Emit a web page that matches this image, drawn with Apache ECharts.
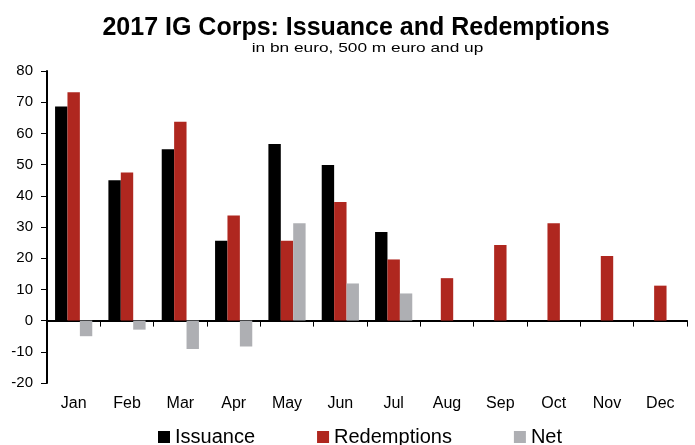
<!DOCTYPE html>
<html>
<head>
<meta charset="utf-8">
<script src="https://cdn.jsdelivr.net/npm/echarts@6/dist/echarts.min.js"></script>
<style>
  html, body { margin: 0; padding: 0; background: #fff; }
  #chart { width: 695px; height: 445px; }
</style>
</head>
<body>
<div id="chart"></div>
<script>
const categories = ['Jan', 'Feb', 'Mar', 'Apr', 'May', 'Jun', 'Jul', 'Aug', 'Sep', 'Oct', 'Nov', 'Dec'];
const issuance = [68.6, 45.0, 54.9, 25.6, 56.6, 49.9, 28.4, null, null, null, null, null];
const redemptions = [73.2, 47.5, 63.7, 33.7, 25.6, 38.0, 19.6, 13.6, 24.2, 31.2, 20.7, 11.2];
const net = [-5.0, -2.9, -9.1, -8.3, 31.2, 11.9, 8.7, null, null, null, null, null];
const yTicks = { min: -20, max: 80, interval: 10 };
const titleText = '2017 IG Corps: Issuance and Redemptions';
const subtitleText = 'in bn euro, 500 m euro and up';

const FONT = '"Liberation Sans", Arial, sans-serif';
const chart = echarts.init(document.getElementById('chart'), null, { renderer: 'canvas' });

const barW = 12.4;
function barSeries(name, data, color) {
  return {
    name: name,
    type: 'bar',
    data: data,
    xAxisIndex: 0,
    barWidth: barW,
    barGap: '0%',
    itemStyle: { color: color },
    emphasis: { disabled: true },
    animation: false
  };
}

chart.setOption({
  animation: false,
  textStyle: { fontFamily: FONT },
  graphic: [
    {
      type: 'text', x: 356, y: 28,
      style: {
        text: titleText, font: 'bold 25px ' + FONT, fill: '#000',
        align: 'center', verticalAlign: 'middle',
        textAlign: 'center', textVerticalAlign: 'middle'
      }
    },
    {
      type: 'text', x: 367.5, y: 48.5, scaleX: 1.28,
      style: {
        text: subtitleText, font: '13.5px ' + FONT, fill: '#000',
        align: 'center', verticalAlign: 'middle',
        textAlign: 'center', textVerticalAlign: 'middle'
      }
    }
  ],
  legend: {
    left: 153,
    top: 422,
    itemWidth: 12,
    itemHeight: 12,
    itemGap: 62,
    icon: 'rect',
    textStyle: { fontSize: 20, color: '#000', fontFamily: FONT },
    data: ['Issuance', 'Redemptions', 'Net']
  },
  grid: { left: 47, right: 8, top: 71, bottom: 62, containLabel: false },
  xAxis: [
    {
      type: 'category',
      data: categories,
      position: 'bottom',
      boundaryGap: true,
      axisLine: { show: false, onZero: false },
      axisTick: { show: false },
      axisLabel: { margin: 13, fontSize: 16, color: '#000', fontFamily: FONT },
      splitLine: { show: false }
    },
    {
      type: 'category',
      data: categories,
      position: 'top',
      boundaryGap: true,
      axisLine: { show: true, onZero: true, lineStyle: { color: '#000', width: 2 } },
      axisTick: { show: true, inside: true, length: 6, alignWithLabel: false, lineStyle: { color: '#000', width: 1 } },
      axisLabel: { show: false },
      splitLine: { show: false }
    }
  ],
  yAxis: {
    type: 'value',
    min: yTicks.min,
    max: yTicks.max,
    interval: yTicks.interval,
    axisLine: { show: true, onZero: false, lineStyle: { color: '#000', width: 2 } },
    axisTick: { show: true, length: 6, lineStyle: { color: '#000', width: 1 } },
    axisLabel: { margin: 14, fontSize: 15, color: '#000', fontFamily: FONT },
    splitLine: { show: false }
  },
  series: [
    barSeries('Issuance', issuance, '#000000'),
    barSeries('Redemptions', redemptions, '#AF271F'),
    barSeries('Net', net, '#AEAFB3')
  ]
});
</script>
</body>
</html>
